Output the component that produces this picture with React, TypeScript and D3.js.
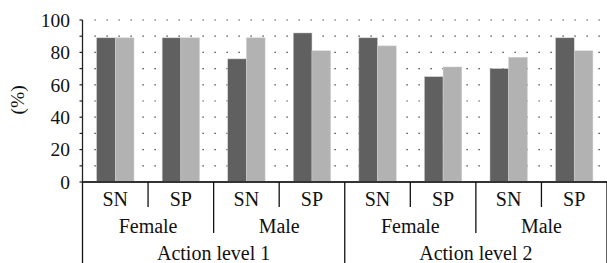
import React from "react";
import * as d3 from "d3";

const categories = ["SN", "SP", "SN", "SP", "SN", "SP", "SN", "SP"];
const genders = ["Female", "Male", "Female", "Male"];
const actionLevels = ["Action level 1", "Action level 2"];
const darkSeries = [89, 89, 76, 92, 89, 65, 70, 89];
const lightSeries = [89, 89, 89, 81, 84, 71, 77, 81];
const yTicks = [0, 20, 40, 60, 80, 100];
const yLabel = "(%)";

const W = 607;
const H = 263;
const left = 82.5;
const right = 607;
const top = 20;
const bottom = 182;
const FONT = "Liberation Serif, Tinos, Times New Roman, DejaVu Serif, serif";
const FS = 20;

export default function App() {
  const idx = categories.map((_, i) => i);
  const x = d3.scaleBand<number>().domain(idx).range([left, right]).paddingInner(0.43).paddingOuter(0.215);
  const inner = d3.scaleBand<number>().domain([0, 1]).range([0, x.bandwidth()]);
  const y = d3.scaleLinear().domain([0, 100]).range([bottom, top]);
  const step = x.step();
  const grid = d3.range(10, 101, 10);
  const minor = d3.range(0, 101, 10);
  const series = [
    { vals: darkSeries, color: "#606060" },
    { vals: lightSeries, color: "#b2b2b2" },
  ];
  const ts: React.CSSProperties = { fontFamily: FONT, fontSize: FS };
  const tsY: React.CSSProperties = { fontFamily: FONT, fontSize: 19.5 };
  return (
    <svg width={W} height={H} style={{ position: "absolute", left: 0, top: 0 }}>
      {grid.map((g) => (
        <line key={"g" + g} x1={left + 12} x2={right} y1={y(g)} y2={y(g)} stroke="#222" strokeWidth={1.2} strokeDasharray="1.2 10.8" />
      ))}
      {series.map((s, si) =>
        s.vals.map((v, i) => (
          <rect key={si + "-" + i} x={(x(i) as number) + (inner(si) as number)} y={y(v)} width={inner.bandwidth()} height={bottom - y(v)} fill={s.color} stroke="#d0d0d0" strokeWidth={0.5} />
        ))
      )}
      <line x1={left} x2={left} y1={top} y2={bottom} stroke="#222" strokeWidth={1.3} />
      {minor.map((t) => (
        <line key={"m" + t} x1={left - 3} x2={left} y1={y(t)} y2={y(t)} stroke="#222" strokeWidth={1.2} />
      ))}
      {yTicks.map((t) => (
        <text key={"y" + t} x={70} y={y(t)} dy="0.35em" textAnchor="end" style={tsY} fill="#111">{t}</text>
      ))}
      <text transform={`translate(${24},${100}) rotate(-90)`} textAnchor="middle" style={tsY} fill="#111">{yLabel}</text>
      <line x1={left} x2={right} y1={bottom} y2={bottom} stroke="#333" strokeWidth={1.8} />
      {d3.range(0, 9).map((k) => {
        const xs = left + k * step;
        const len = k % 4 === 0 ? 263 : k % 2 === 0 ? 233 : 207;
        return <line key={"s" + k} x1={xs} x2={xs} y1={bottom} y2={len} stroke="#111" strokeWidth={1.3} />;
      })}
      {categories.map((c, i) => (
        <text key={"c" + i} x={(x(i) as number) + x.bandwidth() / 2} y={205.5} textAnchor="middle" style={ts} fill="#111">{c}</text>
      ))}
      {genders.map((g, i) => (
        <text key={"gd" + i} x={left + step * (2 * i + 1)} y={233} textAnchor="middle" style={ts} fill="#111">{g}</text>
      ))}
      {actionLevels.map((a, i) => (
        <text key={"a" + i} x={left + step * (4 * i + 2)} y={259.5} textAnchor="middle" style={ts} fill="#111">{a}</text>
      ))}
    </svg>
  );
}
